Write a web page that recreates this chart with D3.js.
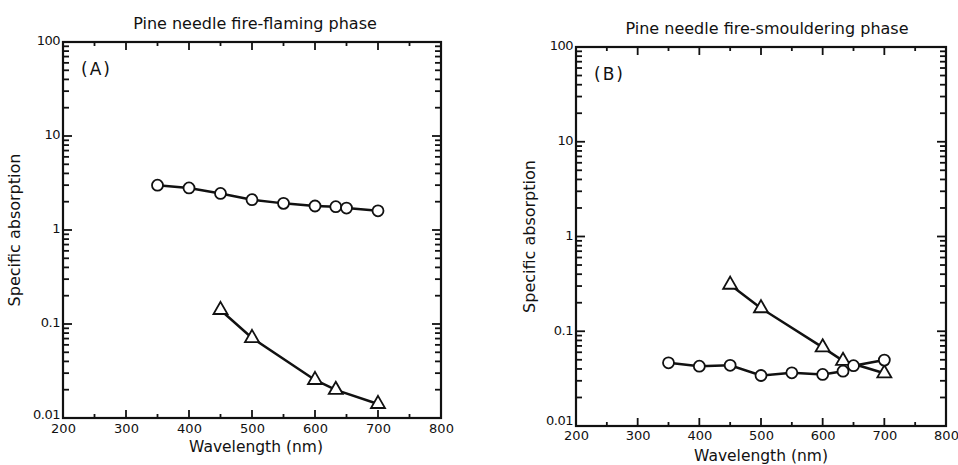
<!DOCTYPE html>
<html lang="en">
<head>
<meta charset="UTF-8"/>
<title>Pine needle fire - specific absorption</title>
<script src="https://d3js.org/d3.v7.min.js"></script>
<style>
  body { margin: 0; background: #fff; }
  text { font-family: "DejaVu Sans", sans-serif; fill: #111; }
  .tick text { font-size: 13px; }
</style>
</head>
<body>
<script>
// wavelengths (nm)
var circleWave = [350, 400, 450, 500, 550, 600, 633, 650, 700];
var triangleWave = [450, 500, 600, 633, 700];

// panel A - flaming phase
var flamingCircle = [3.0, 2.8, 2.45, 2.1, 1.92, 1.8, 1.77, 1.71, 1.6];
var flamingTriangle = [0.141, 0.071, 0.0254, 0.0199, 0.0141];

// panel B - smouldering phase
var smoulderCircle = [0.0464, 0.0428, 0.0437, 0.0341, 0.0364, 0.035, 0.0379, 0.0433, 0.0496];
var smoulderTriangle = [0.31, 0.175, 0.0676, 0.0488, 0.036];

// ticks
var xTicks = [200, 300, 400, 500, 600, 700, 800];
var xMinorTicks = [250, 350, 450, 550, 650, 750];
var yTicks = [0.01, 0.1, 1, 10, 100];
var yTickLabels = ["0.01", "0.1", "1", "10", "100"];

var w = 958, h = 465;

var svg = d3.select("body").append("svg")
    .attr("width", w)
    .attr("height", h);

// minor log ticks 2..9 in every decade
var yMinorTicks = [];
yTicks.slice(0, -1).forEach(function(d) {
    for (var k = 2; k <= 9; k++) yMinorTicks.push(d * k);
});

function drawPanel(p) {
    var x = d3.scaleLinear().domain([200, 800]).range([p.left, p.right]);
    var y = d3.scaleLog().domain([0.01, 100]).range([p.bottom, p.top]);

    var g = svg.append("g");

    // tick labels from the axis generators (tick lines drawn below)
    g.append("g")
        .attr("transform", "translate(0," + p.bottom + ")")
        .call(d3.axisBottom(x).tickValues(xTicks).tickSize(0).tickPadding(p.xPad));
    g.append("g")
        .attr("transform", "translate(" + p.left + ",0)")
        .call(d3.axisLeft(y).tickValues(yTicks).tickSize(0).tickPadding(3)
            .tickFormat(function(d, i) { return yTickLabels[i]; }))
        .call(function(a) {
            a.selectAll("text").attr("dy", "0.22em").attr("letter-spacing", -0.5);
            // lowest label sits a little above the corner, as in the original
            a.selectAll("text").filter(function(d, i) { return i === 0; })
                .attr("y", p.lowDy);
        });
    g.selectAll(".domain").remove();

    // inward tick marks on all four sides
    var ticks = g.append("g").attr("stroke", "#111").attr("stroke-width", 1.8);
    var xAll = xTicks.map(function(d) { return [d, 8]; })
        .concat(xMinorTicks.map(function(d) { return [d, 4]; }));
    var yAll = yTicks.map(function(d) { return [d, 9]; })
        .concat(yMinorTicks.map(function(d) { return [d, 6]; }));

    ticks.selectAll(".xb").data(xAll).enter().append("line")
        .attr("x1", function(d) { return x(d[0]); })
        .attr("x2", function(d) { return x(d[0]); })
        .attr("y1", p.bottom)
        .attr("y2", function(d) { return p.bottom - d[1]; });
    ticks.selectAll(".xt").data(xAll).enter().append("line")
        .attr("x1", function(d) { return x(d[0]); })
        .attr("x2", function(d) { return x(d[0]); })
        .attr("y1", p.top)
        .attr("y2", function(d) { return p.top + d[1]; });
    ticks.selectAll(".yl").data(yAll).enter().append("line")
        .attr("y1", function(d) { return y(d[0]); })
        .attr("y2", function(d) { return y(d[0]); })
        .attr("x1", p.left)
        .attr("x2", function(d) { return p.left + d[1]; });
    ticks.selectAll(".yr").data(yAll).enter().append("line")
        .attr("y1", function(d) { return y(d[0]); })
        .attr("y2", function(d) { return y(d[0]); })
        .attr("x1", p.right)
        .attr("x2", function(d) { return p.right - d[1]; });

    // frame
    g.append("rect")
        .attr("x", p.left).attr("y", p.top)
        .attr("width", p.right - p.left).attr("height", p.bottom - p.top)
        .attr("fill", "none").attr("stroke", "#111").attr("stroke-width", 2.2);

    var line = d3.line()
        .x(function(d) { return x(d[0]); })
        .y(function(d) { return y(d[1]); });

    var circ = d3.zip(circleWave, p.circle);
    var tri = d3.zip(triangleWave, p.triangle);

    g.append("path").datum(tri)
        .attr("d", line).attr("fill", "none")
        .attr("stroke", "#111").attr("stroke-width", 2.5);
    g.append("path").datum(circ)
        .attr("d", line).attr("fill", "none")
        .attr("stroke", "#111").attr("stroke-width", 2.5);

    g.selectAll(".tri").data(tri).enter().append("path")
        .attr("class", "tri")
        .attr("transform", function(d) { return "translate(" + x(d[0]) + "," + y(d[1]) + ")"; })
        .attr("d", d3.symbol().type(d3.symbolTriangle).size(85))
        .attr("fill", "#fff").attr("stroke", "#111").attr("stroke-width", 1.8);

    g.selectAll(".circ").data(circ).enter().append("circle")
        .attr("class", "circ")
        .attr("cx", function(d) { return x(d[0]); })
        .attr("cy", function(d) { return y(d[1]); })
        .attr("r", 5.5)
        .attr("fill", "#fff").attr("stroke", "#111").attr("stroke-width", 1.8);

    // titles and labels
    svg.append("text")
        .attr("x", (p.left + p.right) / 2 + p.titleDx).attr("y", p.top - 13)
        .attr("text-anchor", "middle").attr("font-size", 16)
        .text(p.title);

    svg.append("text")
        .attr("x", p.left + 18).attr("y", p.top + 33)
        .attr("font-size", 17).attr("letter-spacing", 2)
        .text(p.tag);

    svg.append("text")
        .attr("x", (p.left + p.right) / 2 + p.xLabelDx).attr("y", p.bottom + p.xLabelDy)
        .attr("text-anchor", "middle").attr("font-size", 15.5)
        .text("Wavelength (nm)");

    svg.append("text")
        .attr("transform", "rotate(-90)")
        .attr("x", -(p.top + p.bottom) / 2).attr("y", p.left - p.yLabelDx)
        .attr("text-anchor", "middle").attr("font-size", 16)
        .text("Specific absorption");
}

drawPanel({
    left: 63, right: 441, top: 42, bottom: 418,
    titleDx: 3, xPad: 6, xLabelDx: 4, xLabelDy: 34, yLabelDx: 43, lowDy: -2,
    circle: flamingCircle, triangle: flamingTriangle,
    title: "Pine needle fire-flaming phase", tag: "(A)"
});

drawPanel({
    left: 576, right: 946, top: 47, bottom: 426,
    titleDx: 6, xPad: 5, xLabelDx: 0, xLabelDy: 34.5, yLabelDx: 41, lowDy: -4,
    circle: smoulderCircle, triangle: smoulderTriangle,
    title: "Pine needle fire-smouldering phase", tag: "(B)"
});
</script>
</body>
</html>
